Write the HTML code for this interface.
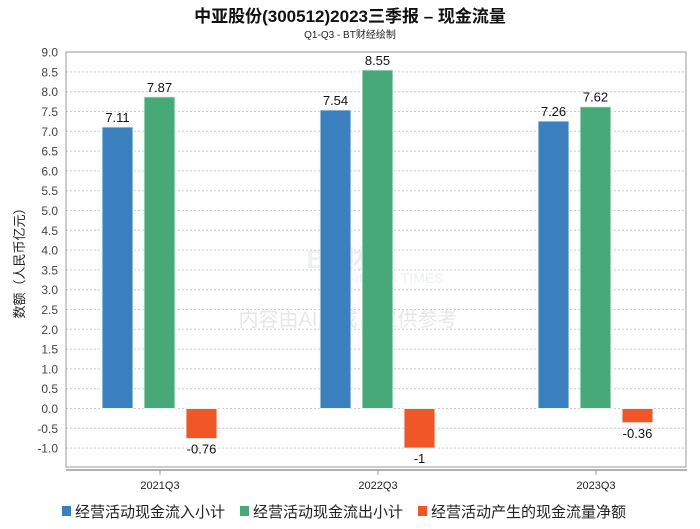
<!DOCTYPE html>
<html><head><meta charset="utf-8"><style>
body{margin:0;background:#fff;font-family:"Liberation Sans","Noto Sans CJK SC",sans-serif;}
svg text{font-family:"Liberation Sans","Noto Sans CJK SC",sans-serif;}
</style></head><body>
<svg id="c" width="700" height="524">
<text x="350" y="22" text-anchor="middle" font-size="17" font-weight="bold" fill="#111">中亚股份(300512)2023三季报 – 现金流量</text>
<text x="350" y="38" text-anchor="middle" font-size="10" fill="#222">Q1-Q3 - BT财经绘制</text>
<g opacity="0.15">
<text x="350" y="268" text-anchor="middle" font-size="26" font-weight="bold" fill="#8899bb">BT财经</text>
<text x="385" y="283" text-anchor="middle" font-size="14" fill="#8899bb">BUSINESS TIMES</text>
<text x="348" y="326" text-anchor="middle" font-size="20" fill="#666">内容由AI生成，仅供参考</text>
</g>
<text transform="translate(24,260) rotate(-90)" text-anchor="middle" font-size="13" fill="#222">数额（人民币亿元）</text>
<g id="grid"></g><g id="bars"></g>
<rect x="66" y="52" width="620" height="415" fill="none" stroke="#999"/>
<line x1="66" y1="470" x2="687" y2="470" stroke="#999" stroke-width="1.5"/>
<g id="xt"></g>
<g font-size="15" fill="#222">
<rect x="62" y="506" width="9" height="10" fill="#3a80be"/>
<text x="75" y="517">经营活动现金流入小计</text>
<rect x="240" y="506" width="9" height="10" fill="#47a878"/>
<text x="253" y="517">经营活动现金流出小计</text>
<rect x="418" y="506" width="9" height="10" fill="#f05626"/>
<text x="431" y="517">经营活动产生的现金流量净额</text>
</g>
</svg>
<script>
const categories=["2021Q3","2022Q3","2023Q3"];
const inflow=[7.11,7.54,7.26];
const outflow=[7.87,8.55,7.62];
const netflow=[-0.76,-1,-0.36];
const yTicks=[9.0,8.5,8.0,7.5,7.0,6.5,6.0,5.5,5.0,4.5,4.0,3.5,3.0,2.5,2.0,1.5,1.0,0.5,0.0,-0.5,-1.0];
const NS="http://www.w3.org/2000/svg";
function y(v){return 408.5-(v)*39.6;}
function xc(i){return 160+218*i;}
function mk(t,a,p){const e=document.createElementNS(NS,t);for(const k in a)e.setAttribute(k,a[k]);p.appendChild(e);return e;}
const grid=document.getElementById('grid');
yTicks.forEach(t=>{
 const l=mk('line',{x1:66,x2:686,y1:y(t),y2:y(t),stroke:'#ccc','stroke-dasharray':'2,2'},grid);
 
 
 const tx=mk('text',{x:58,y:y(t)+4.5,'text-anchor':'end','font-size':'12',fill:'#444'},grid);
 tx.textContent=t.toFixed(1);
 
 
});
const bars=document.getElementById('bars');
const series=[[inflow,'#3a80be',-58,'inflow'],[outflow,'#47a878',-16,'outflow'],[netflow,'#f05626',26,'net']];
categories.forEach((c,i)=>{
 series.forEach(s=>{
  const v=s[0][i];const x=xc(i)+s[2];
  const top=Math.min(y(v),y(0)),h=Math.abs(y(v)-y(0));
  const r=mk('rect',{x:x,y:top,width:31,height:h,fill:s[1],stroke:'#e8f4ee','stroke-width':1},bars);
  
  
  const lt=mk('text',{x:x+15.5,y:v>=0?y(v)-5:y(v)+15,'text-anchor':'middle','font-size':'13',fill:'#111'},bars);
  lt.textContent=String(v);
  
  
 });
 const xt=document.getElementById('xt');
 const tk=mk('line',{x1:xc(i),x2:xc(i),y1:470,y2:475,stroke:'#999'},xt);
 
 
 const tl=mk('text',{x:xc(i),y:489,'text-anchor':'middle','font-size':'11',fill:'#222'},xt);
 tl.textContent=c;
 
 
});
</script>
</body></html>
